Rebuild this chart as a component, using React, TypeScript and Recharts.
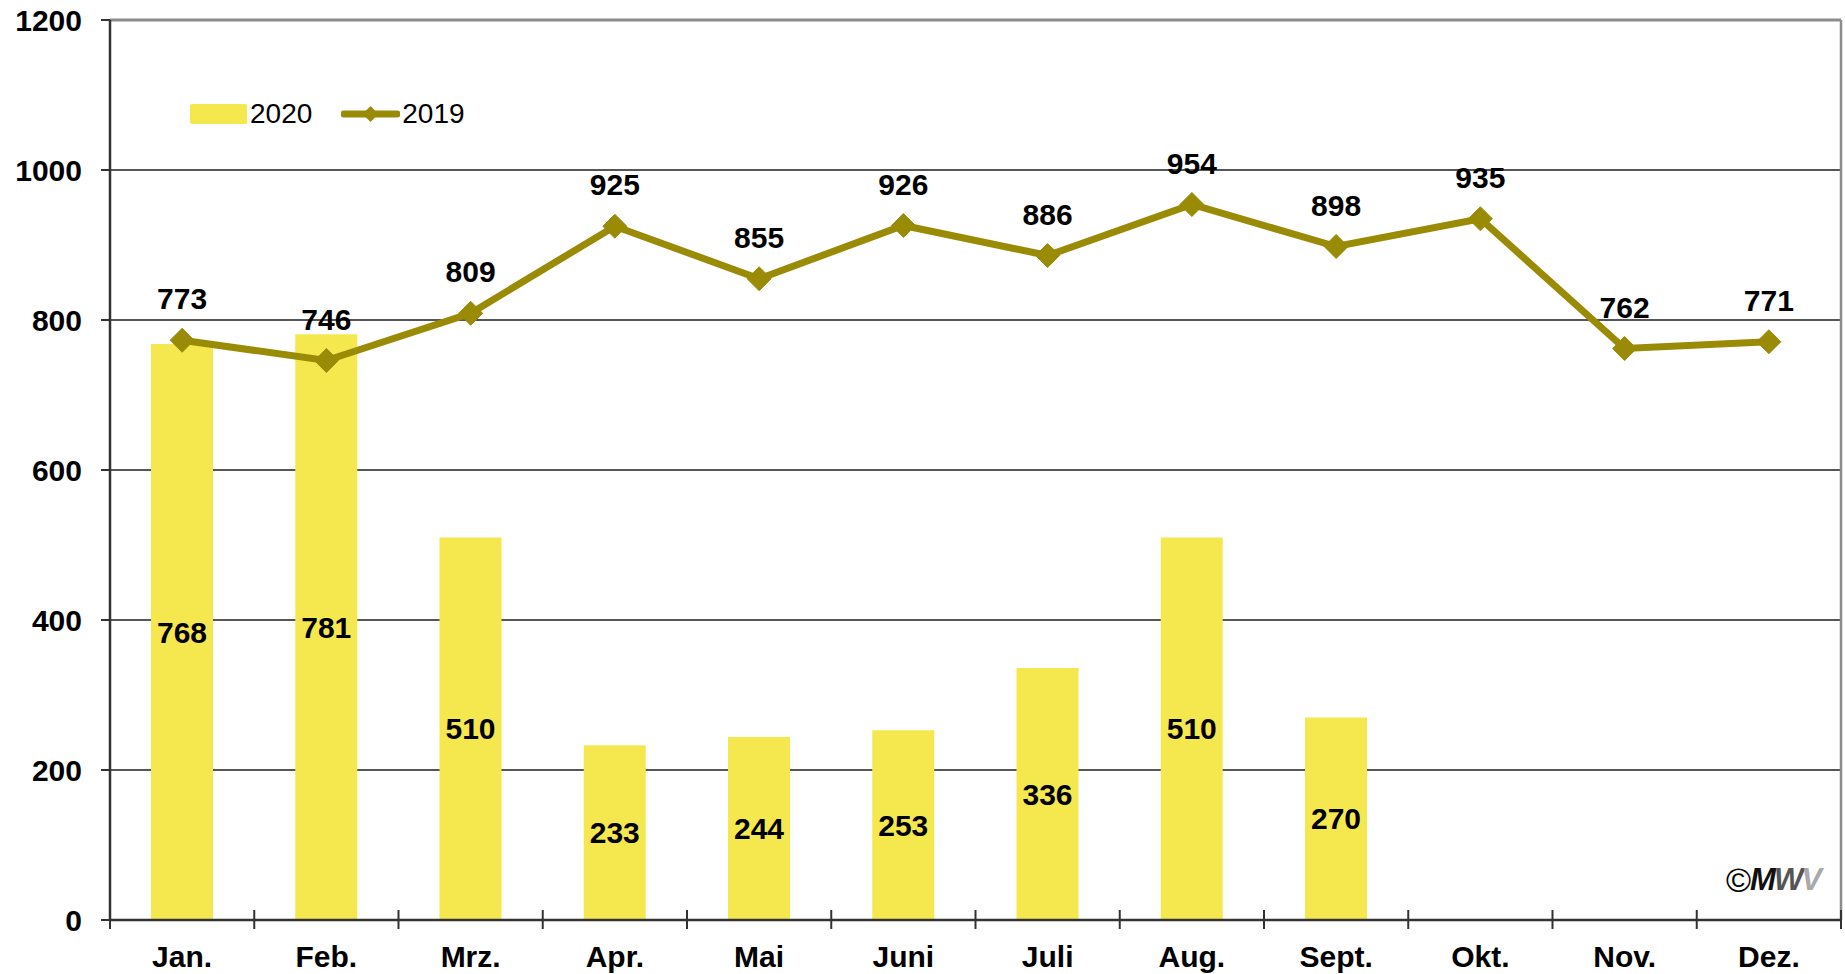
import { ComposedChart, Bar, Line, XAxis, YAxis, CartesianGrid, Legend, LabelList, ReferenceLine } from 'recharts';

const months = ['Jan.', 'Feb.', 'Mrz.', 'Apr.', 'Mai', 'Juni', 'Juli', 'Aug.', 'Sept.', 'Okt.', 'Nov.', 'Dez.'];
const values2020 = [768, 781, 510, 233, 244, 253, 336, 510, 270, null, null, null];
const values2019 = [773, 746, 809, 925, 855, 926, 886, 954, 898, 935, 762, 771];
const yTicks = [0, 200, 400, 600, 800, 1000, 1200];

const data = months.map((m, i) => ({ month: m, v2020: values2020[i], v2019: values2019[i] }));

const FONT = '"Liberation Sans", Arial, sans-serif';
const BAR_COLOR = '#f5e84f';
const LINE_COLOR = '#9a8b07';
const AXIS_COLOR = '#333333';

const Diamond = (props: any) => {
  const { cx, cy } = props;
  if (cx == null || cy == null) return null;
  const r = 12;
  return (
    <path
      d={`M${cx},${cy - r} L${cx + r},${cy} L${cx},${cy + r} L${cx - r},${cy} Z`}
      fill={LINE_COLOR}
      stroke={LINE_COLOR}
      strokeWidth={1}
    />
  );
};

const XTick = (props: any) => {
  const { x, y, payload, index } = props;
  const half = payload && payload.offset ? payload.offset : 72.1;
  const axisY = y - 26;
  const last = index === months.length - 1;
  return (
    <g>
      <line x1={x - half} x2={x - half} y1={axisY - 10} y2={axisY + 9} stroke={AXIS_COLOR} strokeWidth={2} />
      {last && <line x1={x + half} x2={x + half} y1={axisY - 10} y2={axisY + 9} stroke={AXIS_COLOR} strokeWidth={2} />}
      <text x={x} y={y} dy="0.71em" textAnchor="middle" fill="#000" fontSize={30} fontWeight="bold" fontFamily={FONT}>
        {payload.value}
      </text>
    </g>
  );
};

const renderLegend = () => (
  <div style={{ display: 'flex', alignItems: 'center', height: 28, fontFamily: FONT, fontSize: 28, color: '#000' }}>
    <div style={{ width: 57, height: 20, background: BAR_COLOR, borderRadius: 2 }} />
    <span style={{ marginLeft: 3, lineHeight: '28px' }}>2020</span>
    <svg width={59} height={20} style={{ marginLeft: 29 }}>
      <line x1={3} x2={56} y1={10} y2={10} stroke={LINE_COLOR} strokeWidth={7} strokeLinecap="round" />
      <path d="M29.5,2 L37.5,10 L29.5,18 L21.5,10 Z" fill={LINE_COLOR} />
    </svg>
    <span style={{ marginLeft: 2, lineHeight: '28px' }}>2019</span>
  </div>
);

export default function App() {
  return (
    <div style={{ position: 'absolute', left: 0, top: 0, width: 1845, height: 974, background: '#fff' }}>
      <ComposedChart width={1845} height={974} data={data} margin={{ top: 20, right: 4, bottom: 0, left: 0 }}>
        <CartesianGrid vertical={false} stroke="#1e1e1e" strokeWidth={1.3} />
        <CartesianGrid horizontal={false} verticalPoints={[1841]} stroke="#8c8c8c" strokeWidth={2.5} />
        <ReferenceLine y={1200} stroke="#8c8c8c" strokeWidth={3} />
        <XAxis
          dataKey="month"
          height={54}
          interval={0}
          tickSize={9}
          tickMargin={17}
          tickLine={false}
          axisLine={{ stroke: AXIS_COLOR, strokeWidth: 2.5 }}
          tick={<XTick />}
        />
        <YAxis
          width={110}
          domain={[0, 1200]}
          ticks={yTicks}
          tickSize={9}
          tickMargin={19}
          axisLine={{ stroke: AXIS_COLOR, strokeWidth: 2.5 }}
          tickLine={{ stroke: AXIS_COLOR, strokeWidth: 2 }}
          tick={{ fill: '#000', fontSize: 30, fontWeight: 'bold', fontFamily: FONT }}
        />
        <Legend
          verticalAlign="middle"
          align="center"
          content={renderLegend}
          wrapperStyle={{ left: 190, top: 100, width: 300, height: 28 }}
        />
        <Bar dataKey="v2020" name="2020" fill={BAR_COLOR} barSize={62} isAnimationActive={false}>
          <LabelList dataKey="v2020" position="center" fill="#000" fontSize={30} fontWeight="bold" fontFamily={FONT} />
        </Bar>
        <Line
          dataKey="v2019"
          name="2019"
          type="linear"
          stroke={LINE_COLOR}
          strokeWidth={7}
          dot={<Diamond />}
          activeDot={false}
          isAnimationActive={false}
        >
          <LabelList dataKey="v2019" position="top" offset={31} fill="#000" fontSize={30} fontWeight="bold" fontFamily={FONT} />
        </Line>
      </ComposedChart>
      <div style={{ position: 'absolute', left: 1726, top: 860, fontFamily: FONT, display: 'flex', alignItems: 'center', height: 40 }}>
        <span style={{ fontSize: 34, color: '#000' }}>©</span>
        <span style={{ fontSize: 31, fontWeight: 'bold', fontStyle: 'italic', letterSpacing: -2, marginLeft: -1 }}>
          <span style={{ color: '#111' }}>M</span>
          <span style={{ color: '#555' }}>W</span>
          <span style={{ color: '#aaa' }}>V</span>
        </span>
      </div>
    </div>
  );
}
